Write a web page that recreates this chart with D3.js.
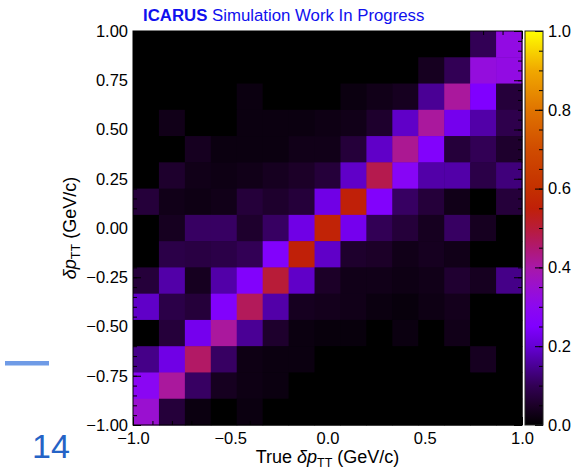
<!DOCTYPE html>
<html>
<head>
<meta charset="utf-8">
<script src="https://cdn.jsdelivr.net/npm/d3@7"></script>
<style>
  body { margin: 0; background: #fff; }
  svg { display: block; }
</style>
</head>
<body>
<svg id="chart" width="588" height="471"></svg>
<script>
// ---- data ---------------------------------------------------------------
// 15 x 15 response matrix, rows listed from the top (reco 1.0) to the bottom (reco -1.0),
// columns from true -1.0 to true 1.0.
const nBins = 15;
const cellValues = [
  [0, 0, 0, 0, 0, 0, 0, 0, 0, 0, 0, 0, 0, 0.10, 0.32],
  [0, 0, 0, 0, 0, 0, 0, 0, 0, 0, 0, 0.04, 0.10, 0.33, 0.32],
  [0, 0, 0, 0, 0.02, 0, 0, 0, 0.02, 0.03, 0.04, 0.15, 0.41, 0.25, 0.07],
  [0, 0.03, 0, 0, 0.02, 0.02, 0.02, 0.025, 0.03, 0.055, 0.19, 0.41, 0.23, 0.165, 0.09],
  [0, 0, 0.04, 0.02, 0.02, 0.02, 0.03, 0.03, 0.07, 0.19, 0.42, 0.26, 0.07, 0.10, 0.055],
  [0, 0.055, 0.03, 0.025, 0.03, 0.04, 0.05, 0.07, 0.19, 0.48, 0.28, 0.165, 0.165, 0.085, 0.13],
  [0.07, 0.03, 0.025, 0.03, 0.07, 0.055, 0.07, 0.22, 0.55, 0.26, 0.11, 0.07, 0.03, 0, 0.07],
  [0, 0.04, 0.11, 0.11, 0.055, 0.11, 0.22, 0.56, 0.23, 0.10, 0.07, 0.04, 0.11, 0.04, 0],
  [0, 0.085, 0.08, 0.085, 0.10, 0.26, 0.55, 0.19, 0.055, 0.05, 0.03, 0.04, 0.03, 0, 0],
  [0.07, 0.165, 0.04, 0.165, 0.26, 0.50, 0.19, 0.05, 0.03, 0.03, 0.025, 0.03, 0.06, 0.04, 0.14],
  [0.19, 0.085, 0.07, 0.26, 0.47, 0.165, 0.04, 0.035, 0.03, 0.02, 0.015, 0.025, 0.035, 0, 0],
  [0, 0.07, 0.23, 0.41, 0.15, 0.055, 0.02, 0.015, 0.015, 0, 0.02, 0, 0.03, 0, 0],
  [0.14, 0.22, 0.46, 0.11, 0.025, 0.02, 0.02, 0, 0, 0, 0, 0, 0, 0.04, 0],
  [0.29, 0.41, 0.11, 0.04, 0.025, 0.02, 0, 0, 0, 0, 0, 0, 0, 0, 0],
  [0.35, 0.07, 0.02, 0, 0.02, 0, 0, 0, 0, 0, 0, 0, 0, 0, 0]
];

const xMajorTicks = [-1.0, -0.5, 0.0, 0.5, 1.0];
const yMajorTicks = [-1.0, -0.75, -0.5, -0.25, 0.0, 0.25, 0.5, 0.75, 1.0];
const zMajorTicks = [0.0, 0.2, 0.4, 0.6, 0.8, 1.0];

// colour palette (value -> colour)
const paletteStops  = [0, 0.05, 0.1, 0.15, 0.2, 0.25, 0.3, 0.35, 0.4, 0.45, 0.5, 0.55, 0.6, 0.7, 0.8, 0.9, 1.0];
const paletteColors = ["#000000", "#1c0028", "#320055", "#4a0095", "#6500d5", "#8000ff", "#8c08f0",
                       "#9a10d0", "#a818a8", "#b01870", "#b81c38", "#c02008", "#c43000", "#d04c00",
                       "#e07400", "#f0a800", "#ffff00"];

// ---- layout -------------------------------------------------------------
const frame = { left: 133, right: 522, top: 31, bottom: 425 };
const zbar = { left: 525, right: 543 };
const FONT = "'Liberation Sans', Arial, Helvetica, sans-serif";

const svg = d3.select("#chart");

const x = d3.scaleLinear().domain([-1, 1]).range([frame.left, frame.right]);
const y = d3.scaleLinear().domain([-1, 1]).range([frame.bottom, frame.top]);
const z = d3.scaleLinear().domain([0, 1]).range([frame.bottom, frame.top]);
const color = d3.scaleLinear().domain(paletteStops).range(paletteColors)
  .interpolate(d3.interpolateRgb).clamp(true);

const binEdges = d3.range(nBins + 1).map(i => -1 + (2 * i) / nBins);

// ---- frame background and cells ------------------------------------------
svg.append("rect")
  .attr("x", frame.left).attr("y", frame.top)
  .attr("width", frame.right - frame.left).attr("height", frame.bottom - frame.top)
  .attr("fill", "#000");

const cells = [];
cellValues.forEach((row, r) => {
  const iy = nBins - 1 - r;
  row.forEach((v, ix) => cells.push({ ix, iy, v }));
});

svg.append("g").selectAll("rect").data(cells).join("rect")
  .attr("x", d => x(binEdges[d.ix]))
  .attr("y", d => y(binEdges[d.iy + 1]))
  .attr("width", d => x(binEdges[d.ix + 1]) - x(binEdges[d.ix]) + 0.5)
  .attr("height", d => y(binEdges[d.iy]) - y(binEdges[d.iy + 1]) + 0.5)
  .attr("fill", d => color(d.v));

// ---- axes ---------------------------------------------------------------
function styleAxis(g, size) {
  g.select(".domain").remove();
  g.selectAll("line").attr("stroke", "#000").attr("stroke-width", 1);
  g.selectAll("text").attr("font-family", FONT).attr("font-size", size).attr("fill", "#000");
}

const xMinor = d3.range(-1, 1.0001, 0.1).map(v => +v.toFixed(2));
const yMinor = d3.range(-1, 1.0001, 0.05).map(v => +v.toFixed(2));
const zMinor = d3.range(0, 1.0001, 0.05).map(v => +v.toFixed(2));

// bottom
svg.append("g").attr("transform", `translate(0,${frame.bottom})`)
  .call(d3.axisBottom(x).tickValues(xMinor).tickSize(-4).tickFormat(""))
  .call(g => styleAxis(g, 16.5));
svg.append("g").attr("transform", `translate(0,${frame.bottom})`)
  .call(d3.axisBottom(x).tickValues(xMajorTicks).tickSize(-8).tickPadding(7).tickFormat(d3.format(".1f")))
  .call(g => styleAxis(g, 16.5));
// top
svg.append("g").attr("transform", `translate(0,${frame.top})`)
  .call(d3.axisTop(x).tickValues(xMinor).tickSize(-4).tickFormat(""))
  .call(g => styleAxis(g, 16.5));
svg.append("g").attr("transform", `translate(0,${frame.top})`)
  .call(d3.axisTop(x).tickValues(xMajorTicks).tickSize(-8).tickFormat(""))
  .call(g => styleAxis(g, 16.5));
// left
svg.append("g").attr("transform", `translate(${frame.left},0)`)
  .call(d3.axisLeft(y).tickValues(yMinor).tickSize(-4).tickFormat(""))
  .call(g => styleAxis(g, 16.5));
svg.append("g").attr("transform", `translate(${frame.left},0)`)
  .call(d3.axisLeft(y).tickValues(yMajorTicks).tickSize(-8).tickPadding(5).tickFormat(d3.format(".2f")))
  .call(g => styleAxis(g, 16.5));
// right
svg.append("g").attr("transform", `translate(${frame.right},0)`)
  .call(d3.axisRight(y).tickValues(yMinor).tickSize(-4).tickFormat(""))
  .call(g => styleAxis(g, 16.5));
svg.append("g").attr("transform", `translate(${frame.right},0)`)
  .call(d3.axisRight(y).tickValues(yMajorTicks).tickSize(-8).tickFormat(""))
  .call(g => styleAxis(g, 16.5));

// frame outline
svg.append("rect")
  .attr("x", frame.left).attr("y", frame.top)
  .attr("width", frame.right - frame.left).attr("height", frame.bottom - frame.top)
  .attr("fill", "none").attr("stroke", "#000").attr("stroke-width", 1);

// ---- colour bar -----------------------------------------------------------
const grad = svg.append("defs").append("linearGradient")
  .attr("id", "zgrad").attr("x1", 0).attr("y1", 1).attr("x2", 0).attr("y2", 0);
grad.selectAll("stop").data(paletteStops).join("stop")
  .attr("offset", d => d)
  .attr("stop-color", (d, i) => paletteColors[i]);

svg.append("rect")
  .attr("x", zbar.left).attr("y", frame.top)
  .attr("width", zbar.right - zbar.left).attr("height", frame.bottom - frame.top)
  .attr("fill", "url(#zgrad)");

svg.append("g").attr("transform", `translate(${zbar.right},0)`)
  .call(d3.axisRight(z).tickValues(zMinor).tickSize(-4).tickFormat(""))
  .call(g => styleAxis(g, 16.5));
svg.append("g").attr("transform", `translate(${zbar.right},0)`)
  .call(d3.axisRight(z).tickValues(zMajorTicks).tickSize(-8).tickPadding(5).tickFormat(d3.format(".1f")))
  .call(g => styleAxis(g, 16.5));

svg.append("rect")
  .attr("x", zbar.left).attr("y", frame.top)
  .attr("width", zbar.right - zbar.left).attr("height", frame.bottom - frame.top)
  .attr("fill", "none").attr("stroke", "#222").attr("stroke-width", 1);

// ---- titles -------------------------------------------------------------
const xTitle = svg.append("text")
  .attr("x", (frame.left + frame.right) / 2).attr("y", 463)
  .attr("text-anchor", "middle")
  .attr("font-family", FONT).attr("font-size", 18).attr("fill", "#000");
xTitle.append("tspan").text("True ");
xTitle.append("tspan").attr("font-style", "italic").text("δp");
xTitle.append("tspan").attr("font-size", 12.5).attr("dy", 4).text("TT");
xTitle.append("tspan").attr("dy", -4).text(" (GeV/c)");

const yTitle = svg.append("text")
  .attr("transform", `translate(76,${(frame.top + frame.bottom) / 2}) rotate(-90)`)
  .attr("text-anchor", "middle")
  .attr("font-family", FONT).attr("font-size", 18).attr("fill", "#000");
yTitle.append("tspan").attr("font-style", "italic").text("δp");
yTitle.append("tspan").attr("font-size", 12.5).attr("dy", 4).text("TT");
yTitle.append("tspan").attr("dy", -4).text(" (GeV/c)");

const header = svg.append("text")
  .attr("x", 143).attr("y", 21)
  .attr("font-family", FONT).attr("font-size", 16.8).attr("fill", "#1010ee");
header.append("tspan").attr("font-weight", "bold").text("ICARUS");
header.append("tspan").text(" Simulation Work In Progress");

// ---- slide decorations ------------------------------------------------------
svg.append("rect")
  .attr("x", 5).attr("y", 361).attr("width", 44).attr("height", 4.5)
  .attr("fill", "#6f9be6");
svg.append("text")
  .attr("x", 32).attr("y", 458)
  .attr("font-family", FONT).attr("font-size", 34).attr("fill", "#2563c6")
  .text("14");
</script>
</body>
</html>
